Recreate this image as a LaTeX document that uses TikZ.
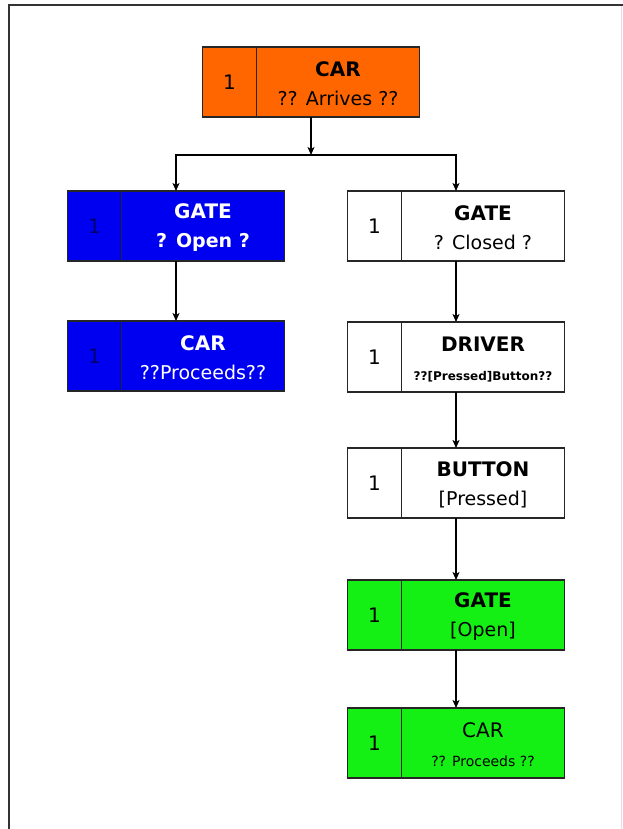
\documentclass[tikz,border=0pt]{standalone}
\usepackage{fontspec}
\setmainfont{DejaVu Sans}
\usetikzlibrary{arrows.meta}
\definecolor{carorange}{RGB}{255,102,0}
\definecolor{gateblue}{RGB}{0,0,240}
\definecolor{navyone}{RGB}{0,0,110}
\definecolor{gogreen}{RGB}{20,240,20}
\newcommand{\boxtitle}[1]{{\fontsize{20}{29}\selectfont\bfseries #1}}
\tikzset{
  box/.style={draw=black!85, line width=1.3pt, minimum width=217pt, minimum height=70pt, inner sep=0pt, outer sep=0pt},
  numcell/.style={draw=black!85, line width=1.3pt, minimum width=54pt, minimum height=70pt, inner sep=0pt, outer sep=0pt, anchor=west, font=\fontsize{20}{20}\selectfont},
  txt/.style={align=center, inner sep=0pt, font=\fontsize{19}{29}\selectfont},
  flow/.style={->, line width=1.3pt},
}
\begin{document}
\begin{tikzpicture}[x=1pt, y=-1pt, >={Stealth[length=8pt,width=7pt,inset=2pt]}]
    \useasboundingbox (0,0) rectangle (623,829);
    % frame
    \draw[line width=2pt, black!80] (9,829) -- (9,5) -- (623,5);
    \draw[gray!25] (621,6) -- (621,829);
    % start
    \node[box, fill=carorange] (car1) at (311,82) {};
    \node[numcell] (car1-n) at (car1.west) {1};
    \node[txt] (car1-t) at ([xshift=27pt,yshift=-2pt]car1.center) {\boxtitle{CAR}\\?? Arrives ??};
    % left branch
    \node[box, fill=gateblue] (gate1) at (176,226) {};
    \node[numcell, text=navyone] (gate1-n) at (gate1.west) {1};
    \node[txt, text=white] (gate1-t) at ([xshift=27pt,yshift=-2pt]gate1.center) {\boxtitle{GATE}\\\bfseries ? Open ?};
    \node[box, fill=gateblue] (car2) at (176,356) {};
    \node[numcell, text=navyone] (car2-n) at (car2.west) {1};
    \node[txt, text=white] (car2-t) at ([xshift=27pt,yshift=-2pt]car2.center) {\boxtitle{CAR}\\??Proceeds??};
    % right branch
    \node[box] (gate2) at (456,226) {};
    \node[numcell] (gate2-n) at (gate2.west) {1};
    \node[txt] (gate2-t) at ([xshift=27pt,yshift=-2pt]gate2.center) {\boxtitle{GATE}\\? Closed ?};
    \node[box] (driver) at (456,357) {};
    \node[numcell] (driver-n) at (driver.west) {1};
    \node[txt] (driver-t) at ([xshift=27pt,yshift=-2pt]driver.center) {\boxtitle{DRIVER}\\{\fontsize{12}{29}\selectfont\bfseries ??[Pressed]Button??}};
    \node[box] (button) at (456,483) {};
    \node[numcell] (button-n) at (button.west) {1};
    \node[txt] (button-t) at ([xshift=27pt,yshift=-2pt]button.center) {\boxtitle{BUTTON}\\{[Pressed]}};
    \node[box, fill=gogreen] (gate3) at (456,615) {};
    \node[numcell] (gate3-n) at (gate3.west) {1};
    \node[txt] (gate3-t) at ([xshift=27pt,yshift=-2pt]gate3.center) {\boxtitle{GATE}\\{[Open]}};
    \node[box, fill=gogreen] (car3) at (456,743) {};
    \node[numcell] (car3-n) at (car3.west) {1};
    \node[txt] (car3-t) at ([xshift=27pt,yshift=-2pt]car3.center) {{\fontsize{20}{29}\selectfont CAR}\\{\fontsize{14}{29}\selectfont ?? Proceeds ??}};
    % connectors
    \coordinate (split) at (311,155);
    \draw[flow] (car1) -- (split);
    \draw[flow] (split) -| (gate1);
    \draw[flow] (split) -| (gate2);
    \draw[flow] (gate1) -- (car2);
    \draw[flow] (gate2) -- (driver);
    \draw[flow] (driver) -- (button);
    \draw[flow] (button) -- (gate3);
    \draw[flow] (gate3) -- (car3);
  \end{tikzpicture}
\end{document}
